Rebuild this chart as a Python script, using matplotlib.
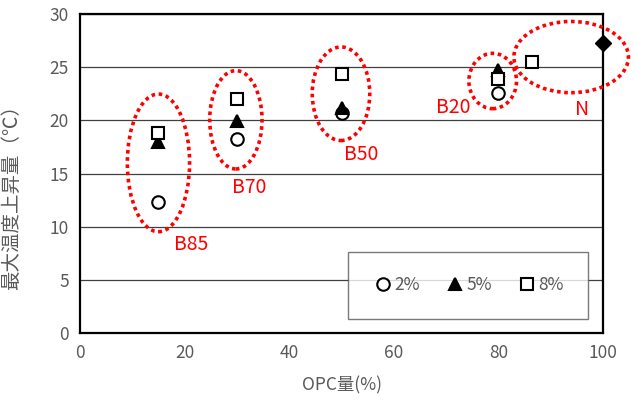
import matplotlib.pyplot as plt
from matplotlib.patches import Ellipse

plt.rcParams['font.family'] = ['Noto Sans CJK JP', 'DejaVu Sans']

# OPC content (%) and max temperature rise (degC) per admixture dosage
opc = [15, 30, 50, 80]
rise_2 = [12.3, 18.2, 20.7, 22.6]
rise_5 = [18.0, 19.9, 21.2, 24.7]
opc_8 = [15, 30, 50, 80, 86.5]
rise_8 = [18.8, 22.0, 24.4, 23.9, 25.5]
opc_n = [100]
rise_n = [27.3]

# group outlines: name, centre x, centre y, width, height, label x, label y
groups = ['B85', 'B70', 'B50', 'B20', 'N']
grp_cx = [15, 29.8, 49.9, 78.9, 93.9]
grp_cy = [16.0, 20.05, 22.5, 23.7, 25.95]
grp_w = [11.9, 10.0, 11.0, 9.1, 21.9]
grp_h = [12.95, 9.25, 8.8, 5.2, 6.7]
lab_x = [18.0, 29.1, 50.5, 68.0, 94.6]
lab_y = [8.3, 13.7, 16.8, 21.2, 21.0]

grey = '#595959'

fig = plt.figure(figsize=(6.36, 4.05), dpi=100)
ax = fig.add_axes([0.1258, 0.1778, 0.8224, 0.7876])

ax.set_xlim(0, 100)
ax.set_ylim(0, 30)
ax.set_xticks(range(0, 101, 20))
ax.set_yticks(range(0, 31, 5))
ax.yaxis.grid(True, color='#404040', linewidth=0.9)
ax.set_axisbelow(True)
ax.tick_params(length=0, labelsize=12.5, labelcolor=grey, pad=8)
for s in ax.spines.values():
    s.set_linewidth(1.6)
    s.set_color('black')

mk = dict(linestyle='none', markersize=9, markeredgewidth=1.5,
          markeredgecolor='black', zorder=5)
ax.plot(opc, rise_2, marker='o', markerfacecolor='white', label='2%', **mk)
ax.plot(opc, rise_5, marker='^', markerfacecolor='black', label='5%', **mk)
ax.plot(opc_8, rise_8, marker='s', markerfacecolor='white', label='8%', **mk)
ax.plot(opc_n, rise_n, marker='D', markerfacecolor='black', clip_on=False,
        linestyle='none', markersize=8, markeredgecolor='black', zorder=6)

for name, cx, cy, w, h, tx, ty in zip(groups, grp_cx, grp_cy, grp_w, grp_h,
                                      lab_x, lab_y):
    ax.add_patch(Ellipse((cx, cy), w, h, fill=False, edgecolor='red',
                         linewidth=2.6, linestyle=(0, (1, 1)),
                         clip_on=False, zorder=7))
    ax.text(tx, ty, name, color='red', fontsize=14, va='center', ha='left')

leg = ax.legend(ncol=3, loc='lower right', bbox_to_anchor=(0.972, 0.045),
                frameon=True, fancybox=False, edgecolor=grey, fontsize=12.5,
                handletextpad=0.05, columnspacing=1.45, borderpad=1.4,
                borderaxespad=0, handlelength=1.2)
leg.get_frame().set_linewidth(1.0)
for t in leg.get_texts():
    t.set_color(grey)

ax.set_xlabel('OPC量(%)', fontsize=12.5, color=grey, labelpad=10)
ax.set_ylabel('最大温度上昇量（℃）', fontsize=14, color=grey)
ax.yaxis.set_label_coords(-0.11, 0.44)

fig.savefig('out.png', dpi=100)
